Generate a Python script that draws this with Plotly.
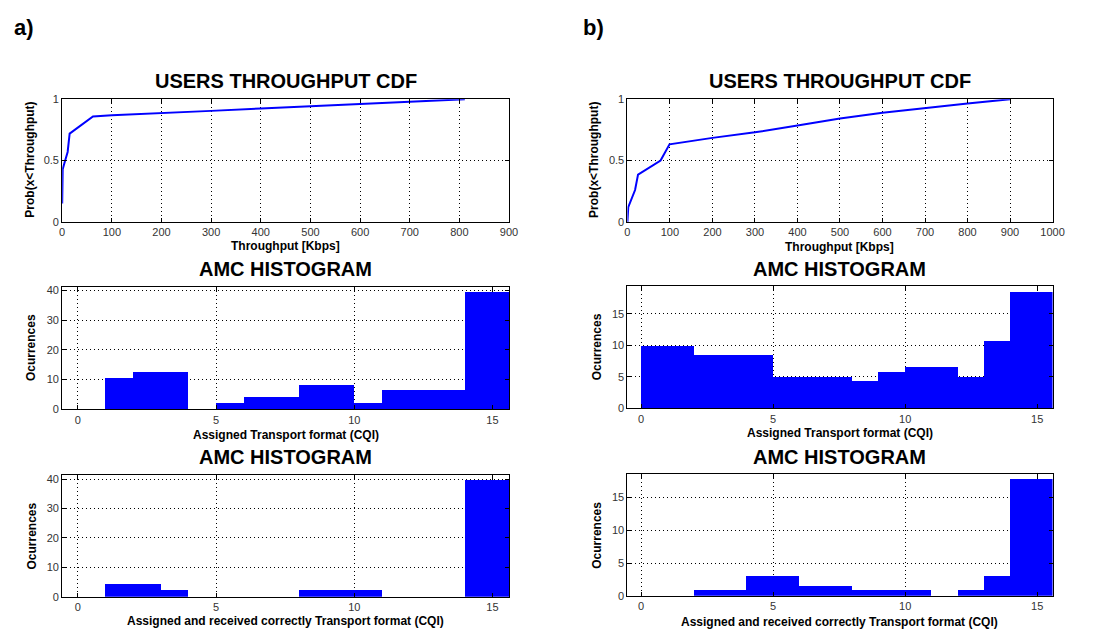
import plotly.graph_objects as go
from plotly.subplots import make_subplots

# ---- data ----
cqi = list(range(16))

# users throughput CDF, scenario a)
cdf_a_kbps = [0, 1, 6, 11, 15, 62, 100, 200, 300, 400, 500, 600, 700, 811]
cdf_a_prob = [0.15, 0.43, 0.50, 0.57, 0.72, 0.86, 0.87, 0.885, 0.905, 0.925, 0.945, 0.963, 0.98, 1.0]

# users throughput CDF, scenario b)
cdf_b_kbps = [0, 2, 18, 25, 78, 99, 200, 300, 400, 500, 600, 700, 800, 900]
cdf_b_prob = [0, 0.12, 0.26, 0.385, 0.5, 0.632, 0.685, 0.73, 0.785, 0.842, 0.89, 0.93, 0.965, 1.0]

# AMC histograms (occurrences per CQI)
amc_assigned_a = [0, 10.5, 12.7, 12.7, 0, 2.2, 4.4, 4.4, 8.4, 8.4, 2.2, 6.5, 6.5, 6.5, 39.7, 39.7]
amc_correct_a = [0, 4.4, 4.4, 2.3, 0, 0, 0, 0, 2.3, 2.3, 2.3, 0, 0, 0, 39.8, 39.8]
amc_assigned_b = [10, 10, 8.5, 8.5, 8.5, 5.1, 5.1, 5.1, 4.35, 5.75, 6.55, 6.55, 5.1, 10.7, 18.5, 18.5]
amc_correct_b = [0, 0, 0.9, 0.9, 3.0, 3.0, 1.55, 1.55, 0.9, 0.9, 0.9, 0, 0.9, 3.0, 17.8, 17.8]

W, H = 1105, 642
BLUE = "#0000FF"
FONT = "Liberation Sans, Arial, sans-serif"


def px_x(p):
    return p / W


def px_y(p):
    return 1 - p / H


fig = make_subplots(rows=3, cols=2)

bar_x = [c + 0.5 for c in cqi]

fig.add_trace(go.Scatter(x=cdf_a_kbps, y=cdf_a_prob, mode="lines",
                         line=dict(color=BLUE, width=2)), row=1, col=1)
fig.add_trace(go.Scatter(x=cdf_b_kbps, y=cdf_b_prob, mode="lines",
                         line=dict(color=BLUE, width=2)), row=1, col=2)
for vals, r, c in [(amc_assigned_a, 2, 1), (amc_assigned_b, 2, 2),
                   (amc_correct_a, 3, 1), (amc_correct_b, 3, 2)]:
    fig.add_trace(go.Bar(x=bar_x, y=vals, width=1, marker=dict(color=BLUE, line=dict(width=0))),
                  row=r, col=c)

axis_common = dict(
    showline=True, linecolor="black", linewidth=1, mirror="ticks",
    ticks="inside", ticklen=4, tickcolor="black",
    showgrid=True, gridcolor="black", gridwidth=1, griddash="1px,3px",
    zeroline=False, tickfont=dict(family=FONT, size=11, color="#333"),
)

# column x extents in pixels
left_x = (60, 513)
right_x = (633, 1064)
# row y extents (top, bottom) in pixels
rows_left = [(95, 220), (286, 411), (478, 602)]
rows_right = [(95, 220), (285, 410), (477, 601)]

axes = [
    # (xaxis name, yaxis name, xcol, rowspan, xrange, xticks, yrange, yticks)
    ("xaxis", "yaxis", left_x, rows_left[0], [0, 900], list(range(0, 901, 100)), [0, 1], [0, 0.5, 1]),
    ("xaxis2", "yaxis2", right_x, rows_right[0], [0, 1000], list(range(0, 1001, 100)), [0, 1], [0, 0.5, 1]),
    ("xaxis3", "yaxis3", left_x, rows_left[1], [-0.57, 15.6], [0, 5, 10, 15], [0, 41.3], [0, 10, 20, 30, 40]),
    ("xaxis4", "yaxis4", right_x, rows_right[1], [-0.52, 15.58], [0, 5, 10, 15], [0, 19.45], [0, 5, 10, 15]),
    ("xaxis5", "yaxis5", left_x, rows_left[2], [-0.57, 15.6], [0, 5, 10, 15], [0, 41.4], [0, 10, 20, 30, 40]),
    ("xaxis6", "yaxis6", right_x, rows_right[2], [-0.52, 15.58], [0, 5, 10, 15], [0, 18.6], [0, 5, 10, 15]),
]

layout_updates = {}
for xa, ya, (x0, x1), (y0, y1), xr, xt, yr, yt in axes:
    layout_updates[xa] = dict(axis_common, domain=[px_x(x0), px_x(x1)], range=xr,
                              tickmode="array", tickvals=xt)
    layout_updates[ya] = dict(axis_common, domain=[px_y(y1), px_y(y0)], range=yr,
                              tickmode="array", tickvals=yt,
                              ticktext=[("%g" % v) for v in yt])
fig.update_layout(**layout_updates)

annotations = []


def text(x, y, s, size, bold=True, angle=0):
    annotations.append(dict(
        x=px_x(x), y=px_y(y), xref="paper", yref="paper", text=("<b>%s</b>" % s) if bold else s,
        showarrow=False, xanchor="center", yanchor="middle", textangle=angle,
        font=dict(family=FONT, size=size, color="black"),
    ))


lc = (left_x[0] + left_x[1]) / 2
rc = (right_x[0] + right_x[1]) / 2

text(21, 22, "a)", 22)
text(599, 22, "b)", 22)

for cx in (lc, rc):
    text(cx, 76, "USERS THROUGHPUT CDF", 20)
    text(cx, 268, "AMC HISTOGRAM", 20)
    text(cx, 460, "AMC HISTOGRAM", 20)

text(lc, 245, "Throughput [Kbps]", 12)
text(rc, 246, "Throughput [Kbps]", 12)
text(lc, 437, "Assigned Transport format (CQI)", 12)
text(rc, 435, "Assigned Transport format (CQI)", 12)
text(lc, 627, "Assigned and received correctly Transport format (CQI)", 12)
text(rc, 628, "Assigned and received correctly Transport format (CQI)", 12)

text(27, 157, "Prob(x&lt;Throughput)", 12, angle=-90)
text(599, 157, "Prob(x&lt;Throughput)", 12, angle=-90)
text(29, 348, "Ocurrences", 12, angle=-90)
text(602, 347, "Ocurrences", 12, angle=-90)
text(29, 540, "Ocurrences", 12, angle=-90)
text(602, 539, "Ocurrences", 12, angle=-90)

fig.update_layout(
    annotations=annotations,
    width=W, height=H,
    margin=dict(l=0, r=0, t=0, b=0),
    paper_bgcolor="white", plot_bgcolor="white",
    showlegend=False, bargap=0,
    font=dict(family=FONT),
)

fig.write_html("out.html")
